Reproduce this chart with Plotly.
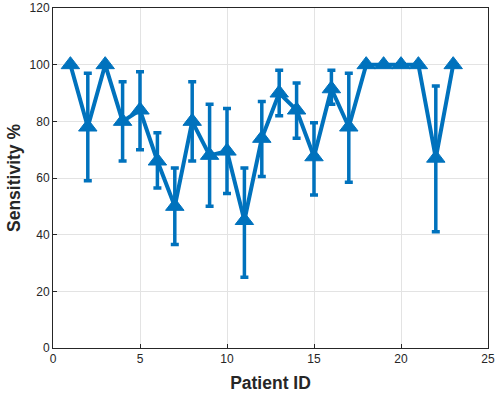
import plotly.graph_objects as go

patient_id = list(range(1, 24))
sensitivity = [100, 78, 100, 80, 84, 66, 50, 80, 68, 69.5, 45, 74, 90, 84, 67.5, 91.5, 78, 100, 100, 100, 100, 67, 100]
err_upper = [0, 19, 0, 14, 13.5, 10, 13.5, 14, 18, 15, 18.5, 13, 8, 9.5, 12, 6.5, 19, 0, 0, 0, 0, 25.5, 0]
err_lower = [0, 19, 0, 14, 14, 9.5, 13.5, 14, 18, 15, 20, 13.5, 8, 10, 13.5, 5.5, 19.5, 0, 0, 0, 0, 26, 0]

x_ticks = [0, 5, 10, 15, 20, 25]
y_ticks = [0, 20, 40, 60, 80, 100, 120]

blue = "#0072BD"
font_family = "Liberation Sans, Arial, sans-serif"

fig = go.Figure()
fig.add_trace(go.Scatter(
    x=patient_id, y=sensitivity,
    mode="lines+markers",
    line=dict(color=blue, width=4),
    marker=dict(symbol="triangle-up", size=16, color=blue, line=dict(color=blue, width=1)),
    error_y=dict(type="data", symmetric=False, array=err_upper, arrayminus=err_lower,
                 color=blue, thickness=3.5, width=4),
    showlegend=False,
))

axis_common = dict(
    showline=True, linecolor="#262626", linewidth=1, mirror=True,
    showgrid=True, gridcolor="#E3E3E3", gridwidth=1,
    ticks="inside", ticklen=4, tickcolor="#262626",
    zeroline=False, automargin=False,
    tickfont=dict(family=font_family, size=12, color="#262626"),
)

fig.update_layout(
    width=498, height=393,
    margin=dict(l=53, r=10, t=8, b=45),
    paper_bgcolor="white", plot_bgcolor="white",
    xaxis=dict(range=[0, 25], tickvals=x_ticks, **axis_common,
               title=dict(text="<b>Patient ID</b>", standoff=11,
                          font=dict(family=font_family, size=17.5, color="#262626"))),
    yaxis=dict(range=[0, 120], tickvals=y_ticks, **axis_common,
               title=dict(text="<b>Sensitivity %</b>", standoff=4,
                          font=dict(family=font_family, size=17.5, color="#262626"))),
)

fig.write_html("out.html", config={"displayModeBar": False},
               post_script="document.body.style.margin='0';document.body.style.overflow='hidden';")
